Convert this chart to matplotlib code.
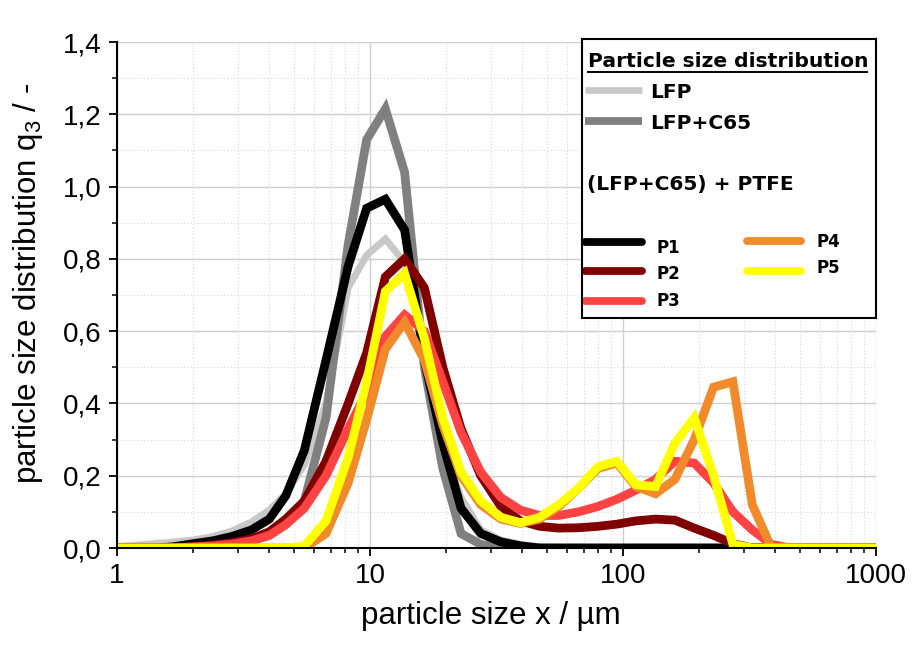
import matplotlib
matplotlib.use('Agg')
import matplotlib.pyplot as plt
from matplotlib.ticker import MultipleLocator, FuncFormatter, LogLocator, NullFormatter, FixedLocator

plt.rcParams['font.family'] = ['Liberation Sans', 'DejaVu Sans']
plt.rcParams['mathtext.fontset'] = 'custom'
plt.rcParams['mathtext.rm'] = 'Liberation Sans'
plt.rcParams['mathtext.it'] = 'Liberation Sans:italic'
plt.rcParams['mathtext.default'] = 'regular'

# ---------------- data ----------------
size_um = [1.0, 1.2, 1.4, 1.65, 2.0, 2.4, 2.85, 3.4, 4.0, 4.65, 5.5, 6.7, 8.2, 9.7,
           11.5, 13.7, 16.4, 19.4, 22.9, 27.4, 32.9, 39.3, 46.8, 55.8, 66.7, 79.7,
           94.7, 112.4, 134.5, 160.4, 191.3, 228.1, 271.9, 324.3, 386.4, 458.8, 1000]

q3_LFP = [0.004, 0.008, 0.012, 0.016, 0.022, 0.032, 0.047, 0.072, 0.105, 0.15, 0.23, 0.40, 0.72, 0.81,
          0.855, 0.79, 0.55, 0.28, 0.14, 0.05, 0.022, 0.010, 0.003, 0, 0, 0,
          0, 0, 0, 0, 0, 0, 0, 0, 0, 0, 0]
q3_LFP_C65 = [0, 0, 0, 0, 0.004, 0.007, 0.012, 0.02, 0.035, 0.065, 0.13, 0.36, 0.84, 1.13,
              1.215, 1.04, 0.50, 0.22, 0.04, 0.01, 0, 0, 0, 0, 0, 0,
              0, 0, 0, 0, 0, 0, 0, 0, 0, 0, 0]
q3_P1 = [0, 0, 0, 0.003, 0.012, 0.02, 0.032, 0.05, 0.08, 0.145, 0.27, 0.52, 0.78, 0.94,
         0.965, 0.88, 0.52, 0.29, 0.11, 0.04, 0.017, 0.006, 0, 0, 0, 0,
         0, 0, 0, 0, 0, 0, 0, 0, 0, 0, 0]
q3_P2 = [0, 0, 0, 0, 0.004, 0.008, 0.015, 0.025, 0.045, 0.08, 0.13, 0.24, 0.40, 0.54,
         0.75, 0.80, 0.72, 0.50, 0.33, 0.20, 0.115, 0.075, 0.06, 0.055, 0.056, 0.06,
         0.066, 0.075, 0.08, 0.077, 0.055, 0.035, 0.012, 0, 0, 0, 0]
q3_P3 = [0, 0, 0, 0, 0.003, 0.006, 0.011, 0.02, 0.035, 0.065, 0.11, 0.20, 0.33, 0.43,
         0.585, 0.645, 0.60, 0.46, 0.32, 0.21, 0.14, 0.105, 0.09, 0.09, 0.10, 0.115,
         0.135, 0.16, 0.19, 0.24, 0.235, 0.18, 0.10, 0.05, 0.01, 0, 0]
q3_P4 = [0, 0, 0, 0, 0, 0, 0, 0, 0, 0, 0, 0.04, 0.18, 0.355,
         0.55, 0.625, 0.52, 0.34, 0.20, 0.12, 0.08, 0.068, 0.08, 0.115, 0.165, 0.22,
         0.235, 0.17, 0.15, 0.19, 0.30, 0.445, 0.46, 0.12, 0, 0, 0]
q3_P5 = [0, 0, 0, 0, 0, 0, 0, 0, 0, 0, 0.005, 0.075, 0.25, 0.46,
         0.71, 0.76, 0.58, 0.36, 0.21, 0.13, 0.085, 0.07, 0.085, 0.12, 0.165, 0.225,
         0.24, 0.175, 0.17, 0.29, 0.36, 0.20, 0.01, 0, 0, 0, 0]

series_names = ['LFP', 'LFP+C65', 'P1', 'P2', 'P3', 'P4', 'P5']
series_values = [q3_LFP, q3_LFP_C65, q3_P1, q3_P2, q3_P3, q3_P4, q3_P5]
series_colors = ['#c8c8c8', '#808080', '#000000', '#800000', '#ff4242', '#f08a2a', '#ffff00']
series_widths = [5.0, 6.3, 6.3, 6.3, 6.3, 6.3, 6.3]

x_ticks = [1, 10, 100, 1000]
x_tick_labels = ['1', '10', '100', '1000']

legend_title = 'Particle size distribution'
legend_group = '(LFP+C65) + PTFE'

# ---------------- figure ----------------
W, H = 915, 661
fig = plt.figure(figsize=(W / 100, H / 100), dpi=100)
ax = fig.add_axes([117 / W, 1 - 548 / H, (876 - 117) / W, (548 - 42) / H])

for name, vals, col, lw in zip(series_names, series_values, series_colors, series_widths):
    ax.plot(size_um, vals, color=col, lw=lw, solid_joinstyle='miter', label=name)

ax.set_xscale('log')
ax.set_xlim(1, 1000)
ax.set_ylim(0, 1.4)

ax.xaxis.set_major_locator(FixedLocator(x_ticks))
ax.set_xticklabels(x_tick_labels)
ax.xaxis.set_minor_locator(LogLocator(base=10, subs=[2, 3, 4, 5, 6, 7, 8, 9]))
ax.xaxis.set_minor_formatter(NullFormatter())
ax.yaxis.set_major_locator(MultipleLocator(0.2))
ax.yaxis.set_minor_locator(MultipleLocator(0.1))
ax.yaxis.set_major_formatter(FuncFormatter(lambda v, p: f'{v:.1f}'.replace('.', ',')))

ax.grid(which='major', color='#cfcfcf', lw=1.0)
ax.grid(which='minor', color='#d9d9d9', lw=0.8, ls=(0, (1, 2)))
ax.set_axisbelow(True)

for s in ['top', 'right']:
    ax.spines[s].set_visible(False)
for s in ['left', 'bottom']:
    ax.spines[s].set_linewidth(1.5)
    ax.spines[s].set_color('black')

ax.tick_params(which='major', direction='out', length=6, width=1.3, labelsize=20, pad=5)
ax.tick_params(which='minor', direction='out', length=3.5, width=1.1)

ax.set_xlabel('particle size x / µm', fontsize=22.5, va='center')
ax.xaxis.set_label_coords((491 - 117) / 759, (548 - 616) / 506)
ax.set_ylabel('particle size distribution q$_3$ / -', fontsize=22.5, va='center')
ax.yaxis.set_label_coords((28 - 117) / 759, (548 - 283) / 506)

# ---------------- legend box ----------------
lx0, ly0, lx1, ly1 = 582, 39, 876, 318
lax = fig.add_axes([lx0 / W, 1 - ly1 / H, (lx1 - lx0) / W, (ly1 - ly0) / H])
lax.set_xlim(0, lx1 - lx0)
lax.set_ylim(ly1 - ly0, 0)
lax.set_xticks([])
lax.set_yticks([])
for s in lax.spines.values():
    s.set_linewidth(1.5)
    s.set_color('black')

lfont = ['DejaVu Sans']
lax.text(6, 27.7, legend_title, fontsize=14.6, fontweight='bold', family=lfont, va='baseline', ha='left')
lax.plot([6, 285], [32.7, 32.7], color='black', lw=1.4)

entries = [
    # (name index, line x0, line x1, line y, text x, text baseline, fontsize)
    (0, 3, 60, 51, 68, 59.3, 14.5),
    (1, 3, 60, 82, 68, 90.3, 14.5),
    (2, 3, 60, 202.7, 75, 214.3, 12),
    (3, 3, 60, 231.7, 75, 240.3, 12),
    (4, 3, 60, 261.7, 75, 266.7, 12),
    (5, 165, 219, 202.3, 235, 207.7, 12),
    (6, 165, 219, 232, 235, 234.3, 12),
]
for i, x0, x1, yl, tx, ty, fs in entries:
    lax.plot([x0, x1], [yl, yl], color=series_colors[i], lw=5.6 if i else 4.8,
             solid_capstyle='round' if i >= 2 else 'butt')
    lax.text(tx, ty, series_names[i], fontsize=fs, fontweight='bold', family=lfont,
             va='baseline', ha='left')

lax.text(5, 151, legend_group, fontsize=14.5, fontweight='bold', family=lfont, va='baseline', ha='left')

fig.savefig('out.png', dpi=100)
